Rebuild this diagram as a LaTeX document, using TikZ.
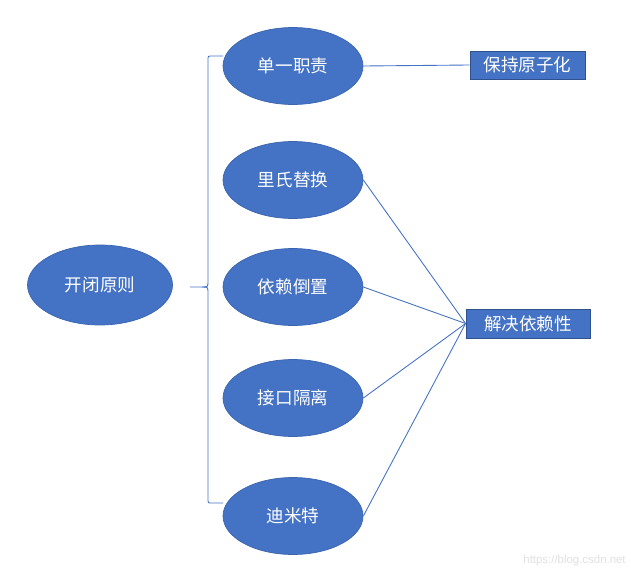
\documentclass[tikz,border=0pt]{standalone}
\usepackage{fontspec}
\newfontfamily\cjk{Noto Sans CJK SC}
\setsansfont{Liberation Sans}
\usetikzlibrary{shapes.geometric}
\definecolor{obl}{HTML}{4472C4}
\definecolor{obd}{HTML}{3A64B0}
\definecolor{obr}{HTML}{2F528F}
\begin{document}
\begin{tikzpicture}[x=0.02cm,y=-0.02cm,
  oval/.style={ellipse,fill=obl,draw=obd,line width=0.4pt,minimum width=2.8cm,minimum height=1.54cm,inner sep=0pt,text=white,font=\cjk\fontsize{10}{12}\selectfont},
  bigoval/.style={oval,minimum width=2.9cm,minimum height=1.6cm},
  tag/.style={rectangle,fill=obl,draw=obr,line width=0.5pt,inner sep=0pt,text=white,font=\cjk\fontsize{10}{12}\selectfont},
  conn/.style={draw=obl,line width=0.5pt}]
\useasboundingbox (0,0) rectangle (631,571);
\node[bigoval] (kb) at (100,285) {开闭原则};
\node[oval] (dy) at (293,66) {单一职责};
\node[oval] (ls) at (293,180) {里氏替换};
\node[oval] (yl) at (293,287) {依赖倒置};
\node[oval] (jk) at (293,398) {接口隔离};
\node[oval] (dm) at (293,516) {迪米特};
\node[tag,minimum width=2.3cm,minimum height=0.56cm] (bc) at (527.5,65) {保持原子化};
\node[tag,minimum width=2.48cm,minimum height=0.58cm] (jj) at (528,323.5) {解决依赖性};
\coordinate (bt) at (223,56);
\coordinate (bb) at (223,503);
\coordinate (bp) at (190,287);
\draw[conn] (bt) -- (212,56) .. controls (208,56) .. (208,60) -- (208,281)
  .. controls (208,287) .. (202,287) -- (bp);
\draw[conn] (202,287) .. controls (208,287) .. (208,293) -- (208,499)
  .. controls (208,503) .. (212,503) -- (bb);
\draw[conn] (dy.east) -- (bc.west);
\draw[conn] (ls.east) -- (jj.west);
\draw[conn] (yl.east) -- (jj.west);
\draw[conn] (jk.east) -- (jj.west);
\draw[conn] (dm.east) -- (jj.west);
\node[text=black!12,font=\sffamily\fontsize{6.5}{8}\selectfont,anchor=east,inner sep=0pt] (wm) at (626,561) {https://blog.csdn.net};
\end{tikzpicture}
\end{document}
